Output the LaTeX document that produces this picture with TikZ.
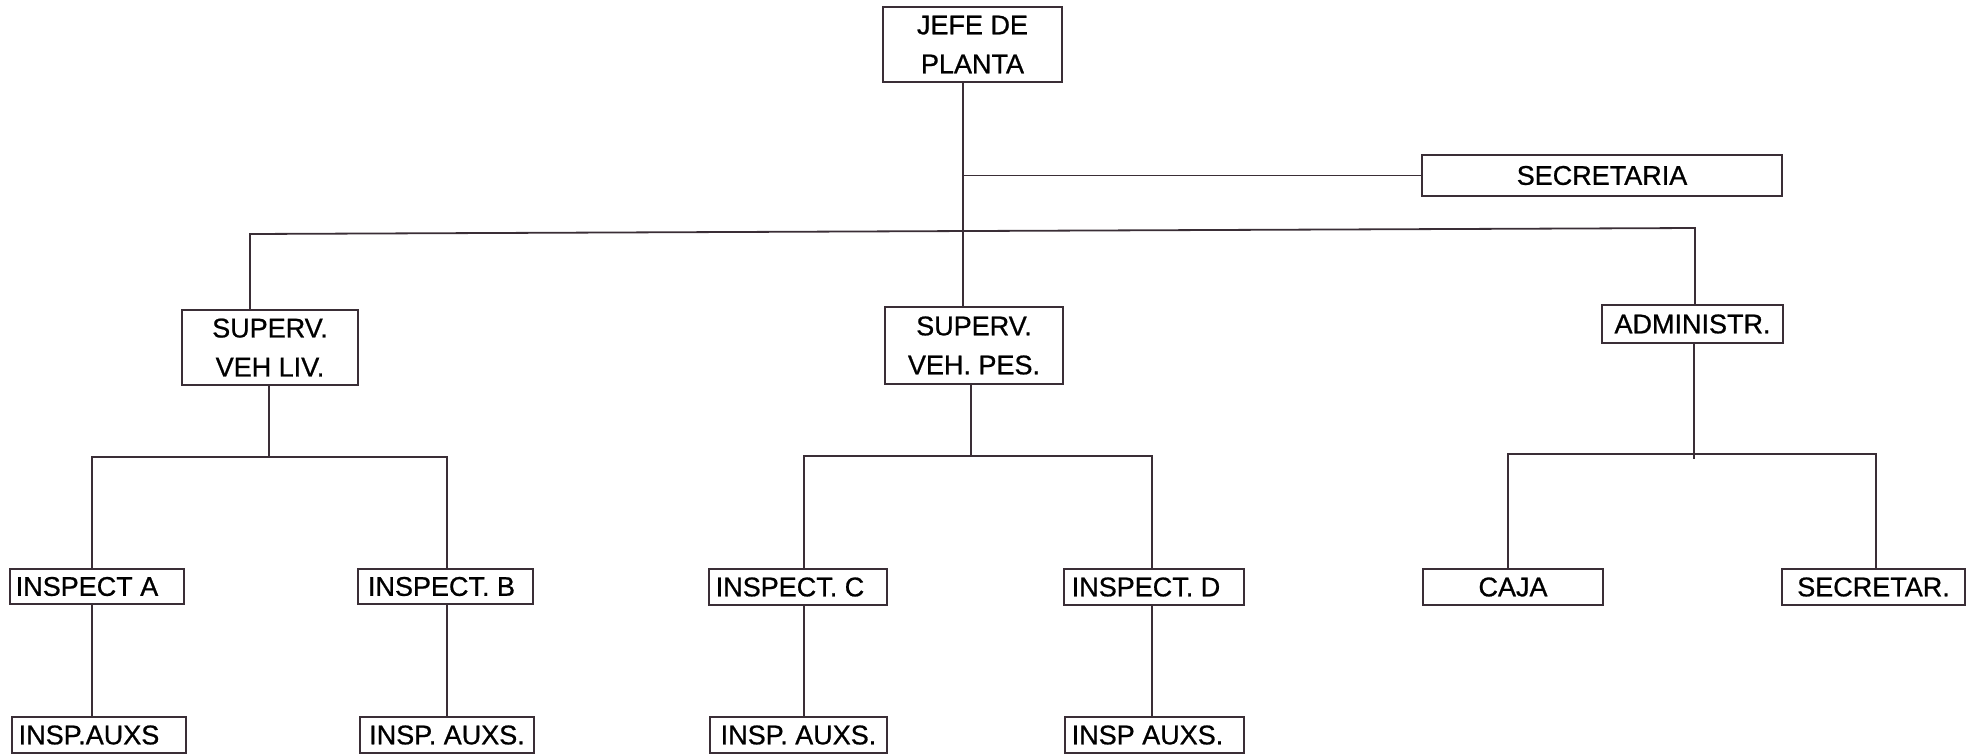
\documentclass[tikz,border=0pt]{standalone}
\usepackage{fontspec}
\setmainfont{Liberation Sans}
\newfontfamily\boxfont[FakeBold=0.8]{Liberation Sans}
\definecolor{ink}{RGB}{58,46,54}
\tikzset{
  box/.style={draw=ink, line width=2.2pt, inner sep=0pt, align=center, text=black,
    font=\boxfont\fontsize{27}{39}\selectfont},
  conn/.style={draw=ink, line width=1.8pt}
}
\begin{document}
\begin{tikzpicture}[x=1pt,y=-1pt]
\useasboundingbox (0,0) rectangle (1972,755);
% boxes
\node[box, minimum width=179pt, minimum height=75pt] (jefe) at (972.5,44.5) {JEFE DE\\PLANTA};
\node[box, minimum width=360pt, minimum height=41pt] (sec) at (1602,175.5) {SECRETARIA};
\node[box, minimum width=176pt, minimum height=75pt] (liv) at (270,347.5) {SUPERV.\\VEH LIV.};
\node[box, minimum width=178pt, minimum height=77pt] (pes) at (974,345.5) {SUPERV.\\VEH. PES.};
\node[box, minimum width=181pt, minimum height=38pt] (adm) at (1692.5,324) {ADMINISTR.};
\node[box, minimum width=174pt, minimum height=35pt] (ia) at (97,586.5) {INSPECT A\hspace{20pt}};
\node[box, minimum width=175pt, minimum height=35pt] (ib) at (445.5,586.5) {INSPECT. B\hspace{8pt}};
\node[box, minimum width=178pt, minimum height=36pt] (ic) at (798,587) {INSPECT. C\hspace{16pt}};
\node[box, minimum width=180pt, minimum height=36pt] (id) at (1154,587) {INSPECT. D\hspace{16pt}};
\node[box, minimum width=180pt, minimum height=36pt] (caja) at (1513,587) {CAJA};
\node[box, minimum width=183pt, minimum height=36pt] (sect) at (1873.5,587) {SECRETAR.};
\node[box, minimum width=174pt, minimum height=36pt] (aa) at (99,735) {INSP.AUXS\hspace{20pt}};
\node[box, minimum width=174pt, minimum height=36pt] (ab) at (447,735) {INSP. AUXS.};
\node[box, minimum width=177pt, minimum height=36pt] (ac) at (798.5,735) {INSP. AUXS.};
\node[box, minimum width=179pt, minimum height=36pt] (ad) at (1154.5,735) {INSP AUXS.\hspace{14pt}};
% helper coordinates
\coordinate (m) at (963,0);
\coordinate (hl) at (250,234);
\coordinate (hr) at (1695,228);
\coordinate (lc) at (269,457);
\coordinate (la) at (92,457);
\coordinate (lb) at (447,457);
\coordinate (pc) at (971,456);
\coordinate (pa) at (804,456);
\coordinate (pb) at (1152,456);
\coordinate (ax) at (1694,459);
\coordinate (aL) at (1508,454);
\coordinate (aR) at (1876,454);
% connectors
\draw[conn] (jefe.south -| m) -- (pes.north -| m);
\draw[conn] (m |- sec.west) -- (sec.west);
\draw[conn] (liv.north -| hl) -- (hl) -- (hr) -- (adm.north -| hr);
\draw[conn] (liv.south -| lc) -- (lc);
\draw[conn] (ia.north -| la) -- (la) -- (lb) -- (ib.north -| lb);
\draw[conn] (ia.south -| la) -- (aa.north -| la);
\draw[conn] (ib.south -| lb) -- (ab.north -| lb);
\draw[conn] (pes.south -| pc) -- (pc);
\draw[conn] (ic.north -| pa) -- (pa) -- (pb) -- (id.north -| pb);
\draw[conn] (ic.south -| pa) -- (ac.north -| pa);
\draw[conn] (id.south -| pb) -- (ad.north -| pb);
\draw[conn] (adm.south -| ax) -- (ax);
\draw[conn] (caja.north -| aL) -- (aL) -- (aR) -- (sect.north -| aR);
\end{tikzpicture}
\end{document}
